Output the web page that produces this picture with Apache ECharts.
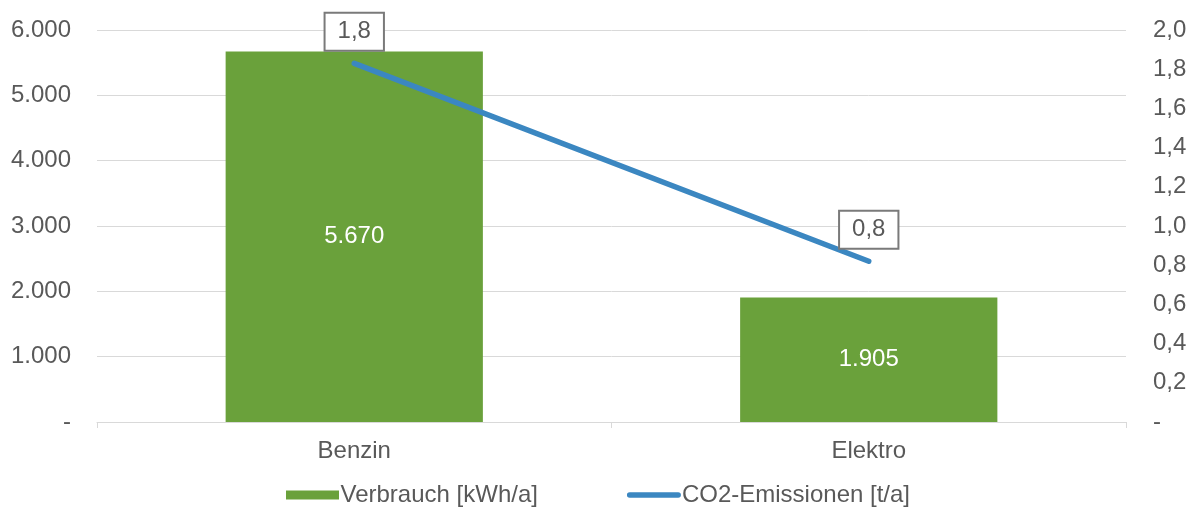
<!DOCTYPE html>
<html>
<head>
<meta charset="utf-8">
<script src="https://cdn.jsdelivr.net/npm/echarts@6/dist/echarts.min.js"></script>
<style>
  html, body { margin: 0; padding: 0; background: #ffffff; }
  #chart { width: 1194px; height: 508px; }
</style>
</head>
<body>
<div id="chart"></div>
<script>
// Fuel type categories
const categories = ['Benzin', 'Elektro'];
// Annual energy use per vehicle [kWh/a]
const verbrauch = [5670, 1905];
// Annual CO2 emissions [t/a]
const co2 = [1.83, 0.82];

const seriesNames = ['Verbrauch [kWh/a]', 'CO2-Emissionen [t/a]'];

const textColor = '#595959';
const barColor = '#6aa13b';
const lineColor = '#3b87c1';
const fontFamily = '"Liberation Sans", Arial, sans-serif';
const fontSize = 24;

function fmtThousands(v) {
  if (v === 0) return '-';
  return String(Math.round(v)).replace(/\B(?=(\d{3})+(?!\d))/g, '.');
}
function fmtDecimal(v) {
  if (Math.abs(v) < 1e-9) return '-';
  return v.toFixed(1).replace('.', ',');
}

// Legend icons: a flat bar swatch and a thick rounded line stroke
const barIcon = 'path://M0,0H53V9H0Z';
const lineIcon = 'path://M3,0H55A3,3 0 0 1 55,6H3A3,3 0 0 1 3,0Z';

const chart = echarts.init(document.getElementById('chart'));
chart.setOption({
  animation: false,
  textStyle: { fontFamily: fontFamily },
  grid: { left: 97, right: 68, top: 30, bottom: 86 },
  legend: {
    top: 478,
    left: 281,
    itemGap: 89,
    itemWidth: 54,
    itemHeight: 9,
    textStyle: { color: textColor, fontSize: fontSize, fontFamily: fontFamily, padding: [0, 0, 0, -4] },
    data: [
      { name: seriesNames[0], icon: barIcon },
      { name: seriesNames[1], icon: lineIcon, itemStyle: { color: lineColor } }
    ]
  },
  xAxis: {
    type: 'category',
    data: categories,
    axisLine: { lineStyle: { color: '#d9d9d9', width: 1 } },
    axisTick: { show: true, length: 6, lineStyle: { color: '#d9d9d9' } },
    axisLabel: { color: textColor, fontSize: fontSize, margin: 17, fontFamily: fontFamily }
  },
  yAxis: [
    {
      type: 'value',
      min: 0, max: 6000, interval: 1000,
      axisLine: { show: false },
      axisTick: { show: false },
      splitLine: { lineStyle: { color: '#d9d9d9', width: 1 } },
      axisLabel: { color: textColor, fontSize: fontSize, margin: 26, formatter: fmtThousands, fontFamily: fontFamily }
    },
    {
      type: 'value',
      min: 0, max: 2, interval: 0.2,
      axisLine: { show: false },
      axisTick: { show: false },
      splitLine: { show: false },
      axisLabel: { color: textColor, fontSize: fontSize, margin: 27, formatter: fmtDecimal, fontFamily: fontFamily }
    }
  ],
  series: [
    {
      name: seriesNames[0],
      type: 'bar',
      yAxisIndex: 0,
      data: verbrauch,
      barWidth: '50%',
      itemStyle: { color: barColor },
      label: {
        show: true,
        position: 'inside',
        color: '#ffffff',
        fontSize: fontSize,
        fontFamily: fontFamily,
        formatter: p => fmtThousands(p.value)
      }
    },
    {
      name: seriesNames[1],
      type: 'line',
      yAxisIndex: 1,
      data: co2,
      symbol: 'circle',
      symbolSize: 1,
      showSymbol: true,
      lineStyle: { color: lineColor, width: 5.5, cap: 'round' },
      itemStyle: { color: lineColor },
      label: {
        show: true,
        position: 'top',
        distance: 13,
        color: textColor,
        fontSize: fontSize,
        lineHeight: 24,
        fontFamily: fontFamily,
        backgroundColor: '#ffffff',
        borderColor: '#7a7a7a',
        borderWidth: 2,
        padding: [6, 12, 6, 12],
        formatter: p => fmtDecimal(p.value)
      }
    }
  ]
});
</script>
</body>
</html>
